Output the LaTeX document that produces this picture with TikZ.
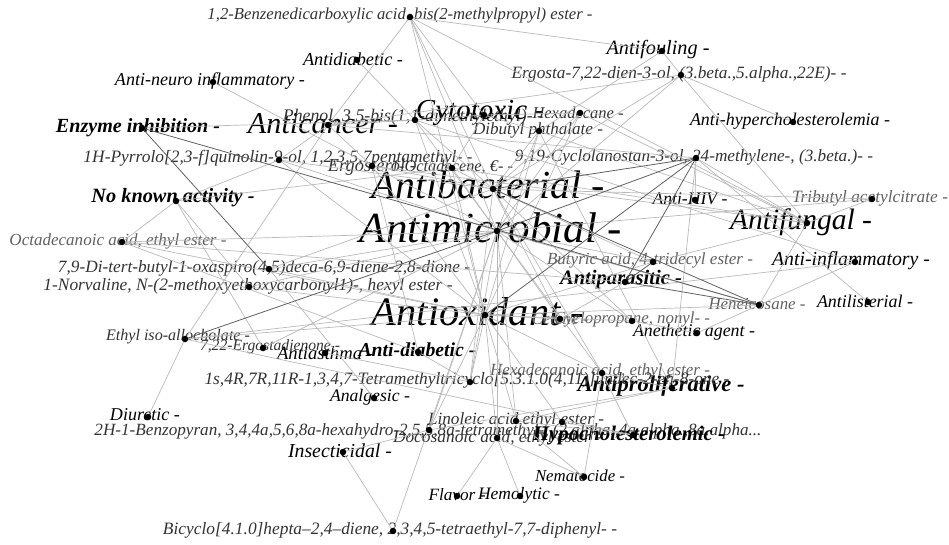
\documentclass[tikz,border=0pt]{standalone}
\usepackage{fontspec}
\setmainfont{Liberation Serif}
\begin{document}
\begin{tikzpicture}[x=1pt,y=-1pt,
 dot/.style={circle,fill=black,inner sep=0pt,minimum size=6.5pt},
 lab/.style={inner sep=0pt,font=\itshape,text=black!80},
 labl/.style={inner sep=0pt,font=\itshape,text=black!62},
 act/.style={inner sep=0pt,font=\itshape,text=black},
 actb/.style={inner sep=0pt,font=\bfseries\itshape,text=black},
 edge/.style={draw=black!27,line width=0.7pt},
 edgeD/.style={draw=black!62,line width=0.8pt}]
\fill[white] (0,0) rectangle (949,545);
\useasboundingbox (0,0) rectangle (949,545);
% ---------- node positions (activities)
\coordinate (neuro) at (213,82);
\coordinate (adiabA) at (357,60);
\coordinate (enz) at (142,128);
\coordinate (canc) at (328,125);
\coordinate (cyto) at (484,115);
\coordinate (foul) at (662,51);
\coordinate (hyperc) at (793,122);
\coordinate (bact) at (493,189);
\coordinate (micro) at (497,231);
\coordinate (nka) at (176,201);
\coordinate (hiv) at (695,200);
\coordinate (fung) at (807,223);
\coordinate (infl) at (855,262);
\coordinate (list) at (868,302);
\coordinate (para) at (625,282);
\coordinate (oxi) at (485,315);
\coordinate (aneth) at (697,333);
\coordinate (asth) at (325,353);
\coordinate (adiabB) at (418,352);
\coordinate (prolif) at (672,388);
\coordinate (analg) at (374,398);
\coordinate (diur) at (148,417);
\coordinate (insect) at (343,452);
\coordinate (hypoc) at (633,435);
\coordinate (nema) at (584,477);
\coordinate (flav) at (457,496);
\coordinate (hemo) at (520,496);
% ---------- node positions (compounds)
\coordinate (benz) at (410,17);
\coordinate (ergd) at (681,75);
\coordinate (phen) at (415,120);
\coordinate (hexd) at (580,113);
\coordinate (dbp) at (539,131);
\coordinate (pyrr) at (279,160);
\coordinate (cycl) at (696,158);
\coordinate (ergo) at (372,166);
\coordinate (octe) at (452,168);
\coordinate (octa) at (122,242);
\coordinate (trib) at (872,199);
\coordinate (dtb) at (269,269);
\coordinate (norv) at (249,287);
\coordinate (buty) at (653,262);
\coordinate (hene) at (759,305);
\coordinate (cete) at (560,319);
\coordinate (cypr) at (632,321);
\coordinate (eia) at (185,339);
\coordinate (ergn) at (263,348);
\coordinate (tmtc) at (470,382);
\coordinate (hexa) at (602,373);
\coordinate (benzp) at (429,430);
\coordinate (lino) at (516,421);
\coordinate (unk) at (562,422);
\coordinate (doco) at (497,438);
\coordinate (bicy) at (393,531);
% ---------- labels
\node[lab] (l-benz) at (400,16) {\resizebox{385pt}{!}{1,2-Benzenedicarboxylic acid, bis(2-methylpropyl) ester -}};
\node[act] (l-adiabA) at (353,59) {\resizebox{100pt}{!}{Antidiabetic -}};
\node[act] (l-foul) at (658,50) {\resizebox{103pt}{!}{Antifouling -}};
\node[lab] (l-ergd) at (679,74) {\resizebox{335pt}{!}{Ergosta-7,22-dien-3-ol, (3.beta.,5.alpha.,22E)- -}};
\node[act] (l-neuro) at (210,81) {\resizebox{190pt}{!}{Anti-neuro inflammatory -}};
\node[act] (l-hyperc) at (790,121) {\resizebox{200pt}{!}{Anti-hypercholesterolemia -}};
\node[actb] (l-enz) at (138,128) {\resizebox{164pt}{!}{Enzyme inhibition -}};
\node[act] (l-canc) at (323,124) {\resizebox{150pt}{!}{Anticancer -}};
\node[lab] (l-phen) at (413,117) {\resizebox{260pt}{!}{Phenol, 3,5-bis(1,1-dimethylethyl)- -}};
\node[act] (l-cyto) at (480,113) {\resizebox{128pt}{!}{Cytotoxic -}};
\node[lab] (l-hexd) at (578,113) {\resizebox{91pt}{!}{Hexadecane -}};
\node[lab] (l-dbp) at (538,130) {\resizebox{130pt}{!}{Dibutyl phthalate -}};
\node[lab] (l-pyrr) at (278,158) {\resizebox{389pt}{!}{1H-Pyrrolo[2,3-f]quinolin-9-ol, 1,2,3,5,7pentamethyl- -}};
\node[lab] (l-ergo) at (372,167) {\resizebox{88pt}{!}{Ergosterol -}};
\node[lab] (l-octe) at (452,167) {\resizebox{122pt}{!}{1-Octadecene, €- -}};
\node[lab] (l-cycl) at (694,157) {\resizebox{358pt}{!}{9,19-Cyclolanostan-3-ol, 24-methylene-, (3.beta.)- -}};
\node[act] (l-bact) at (488,185) {\resizebox{233pt}{!}{Antibacterial -}};
\node[act] (l-micro) at (491,228) {\resizebox{262pt}{!}{Antimicrobial -}};
\node[actb] (l-nka) at (173,198) {\resizebox{163pt}{!}{No known activity -}};
\node[labl] (l-octa) at (118,241) {\resizebox{217pt}{!}{Octadecanoic acid, ethyl ester -}};
\node[lab] (l-dtb) at (264,268) {\resizebox{412pt}{!}{7,9-Di-tert-butyl-1-oxaspiro(4,5)deca-6,9-diene-2,8-dione -}};
\node[lab] (l-norv) at (248,286) {\resizebox{409pt}{!}{1-Norvaline, N-(2-methoxyethoxycarbonyl1)-, hexyl ester -}};
\node[lab] (l-eia) at (178,337) {\resizebox{144pt}{!}{Ethyl iso-allocholate -}};
\node[lab] (l-ergn) at (270,347) {\resizebox{140pt}{!}{7,22-Ergostadienone -}};
\node[act] (l-asth) at (325,353) {\resizebox{96pt}{!}{Antiasthma -}};
\node[actb] (l-adiabB) at (417,350) {\resizebox{117pt}{!}{Anti-diabetic -}};
\node[act] (l-oxi) at (478,312) {\resizebox{212pt}{!}{Antioxidant -}};
\node[actb] (l-para) at (621,280) {\resizebox{122pt}{!}{Antiparasitic -}};
\node[labl] (l-buty) at (650,260) {\resizebox{206pt}{!}{Butyric acid, 4-tridecyl ester -}};
\node[act] (l-hiv) at (690,199) {\resizebox{75pt}{!}{Anti-HIV -}};
\node[labl] (l-trib) at (870,198) {\resizebox{156pt}{!}{Tributyl acetylcitrate -}};
\node[act] (l-fung) at (801,222) {\resizebox{142pt}{!}{Antifungal -}};
\node[act] (l-infl) at (851,261) {\resizebox{158pt}{!}{Anti-inflammatory -}};
\node[act] (l-list) at (865,301) {\resizebox{96pt}{!}{Antilisterial -}};
\node[labl] (l-hene) at (757,304) {\resizebox{97pt}{!}{Heneicosane -}};
\node[act] (l-aneth) at (694,332) {\resizebox{122pt}{!}{Anethetic agent -}};
\node[labl] (l-cypr) at (632,319) {\resizebox{156pt}{!}{Cyclopropane, nonyl- -}};
\node[labl] (l-cete) at (560,319) {\resizebox{57pt}{!}{Cetene -}};
\node[actb] (l-prolif) at (661,386) {\resizebox{167pt}{!}{Antiproliferative -}};
\node[labl] (l-hexa) at (600,371) {\resizebox{220pt}{!}{Hexadecanoic acid, ethyl ester -}};
\node[lab] (l-tmtc) at (467,380) {\resizebox{525pt}{!}{1s,4R,7R,11R-1,3,4,7-Tetramethyltricyclo[5.3.1.0(4,11)]undec-2-en-8-one -}};
\node[act] (l-analg) at (370,397) {\resizebox{80pt}{!}{Analgesic -}};
\node[lab] (l-benzp) at (428,431) {\resizebox{667pt}{!}{2H-1-Benzopyran, 3,4,4a,5,6,8a-hexahydro-2,5,5,8a-tetramethyl-, (2.alpha.,4a.alpha.,8a.alpha...}};
\node[lab] (l-lino) at (516,420) {\resizebox{176pt}{!}{Linoleic acid ethyl ester -}};
\node[lab] (l-doco) at (497,438) {\resizebox{208pt}{!}{Docosanoic acid, ethyl ester -}};
\node[actb] (l-hypoc) at (629,436) {\resizebox{192pt}{!}{Hypocholesterolemic -}};
\node[act] (l-diur) at (145,415) {\resizebox{70pt}{!}{Diuretic -}};
\node[act] (l-insect) at (340,451) {\resizebox{104pt}{!}{Insecticidal -}};
\node[act] (l-nema) at (580,476) {\resizebox{90pt}{!}{Nematocide -}};
\node[act] (l-flav) at (457,495) {\resizebox{57pt}{!}{Flavor -}};
\node[act] (l-hemo) at (519,495) {\resizebox{82pt}{!}{Hemolytic -}};
\node[lab] (l-bicy) at (390,530) {\resizebox{454pt}{!}{Bicyclo[4.1.0]hepta–2,4–diene, 2,3,4,5-tetraethyl-7,7-diphenyl- -}};
% ---------- edges
\foreach \a/\b in {benz/canc,benz/cyto,benz/bact,benz/micro,benz/oxi,benz/foul,benz/fung,
 ergd/foul,ergd/hyperc,ergd/canc,ergd/bact,ergd/fung,ergd/micro,
 phen/adiabA,phen/enz,phen/canc,phen/cyto,phen/bact,phen/micro,phen/oxi,phen/infl,
 hexd/bact,hexd/micro,hexd/oxi,hexd/fung,hexd/cyto,
 dbp/cyto,dbp/bact,dbp/micro,dbp/oxi,dbp/fung,dbp/foul,dbp/prolif,
 pyrr/canc,pyrr/micro,pyrr/oxi,pyrr/nka,pyrr/bact,
 cycl/hiv,cycl/fung,cycl/list,cycl/canc,cycl/prolif,
 ergo/neuro,ergo/canc,ergo/micro,ergo/oxi,ergo/fung,ergo/adiabB,ergo/bact,
 octe/bact,octe/micro,octe/oxi,octe/fung,octe/cyto,octe/nka,
 octa/nka,octa/micro,octa/para,octa/oxi,octa/adiabB,
 trib/micro,trib/fung,trib/bact,
 dtb/micro,dtb/oxi,dtb/bact,dtb/analg,
 norv/nka,norv/oxi,norv/micro,
 buty/micro,buty/bact,buty/oxi,buty/fung,
 hene/micro,hene/fung,hene/oxi,hene/infl,hene/aneth,
 cete/oxi,cete/micro,cete/bact,cete/para,
 cypr/oxi,cypr/micro,cypr/aneth,cypr/bact,
 eia/oxi,eia/diur,eia/canc,eia/infl,eia/hypoc,
 ergn/nka,ergn/micro,
 tmtc/micro,tmtc/bact,tmtc/adiabB,tmtc/asth,tmtc/oxi,
 hexa/oxi,hexa/micro,hexa/hypoc,hexa/prolif,hexa/nema,hexa/bact,
 benzp/insect,benzp/micro,benzp/prolif,benzp/oxi,
 lino/hypoc,lino/oxi,lino/micro,lino/nema,lino/prolif,
 unk/hypoc,unk/oxi,
 doco/flav,doco/hemo,doco/nema,doco/oxi,doco/micro,
 bicy/insect,bicy/micro}
 \draw[edge] (\a) -- (\b);
\foreach \a/\b in {enz/hene,eia/micro,cycl/bact,cycl/micro,cycl/oxi,cycl/para,hene/para,hene/bact,enz/dtb,buty/para}
 \draw[edgeD] (\a) -- (\b);
% ---------- dots
\foreach \n in {neuro,adiabA,enz,canc,cyto,foul,hyperc,bact,micro,nka,hiv,fung,infl,list,para,oxi,aneth,asth,adiabB,prolif,analg,diur,insect,hypoc,nema,flav,hemo,
 benz,ergd,phen,hexd,dbp,pyrr,cycl,ergo,octe,octa,trib,dtb,norv,buty,hene,cete,cypr,eia,ergn,tmtc,hexa,benzp,lino,unk,doco,bicy}
 \node[dot] (d-\n) at (\n) {};
\end{tikzpicture}
\end{document}
